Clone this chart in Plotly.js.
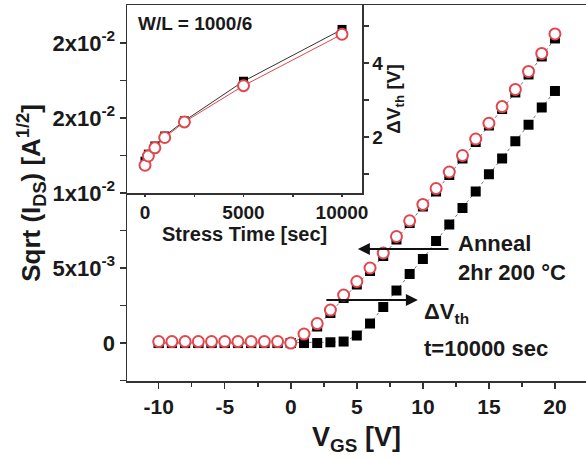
<!DOCTYPE html>
<html><head><meta charset="utf-8">
<script src="https://cdn.plot.ly/plotly-3.0.1.min.js"></script>
<style>html,body{margin:0;padding:0;background:#fff}</style>
</head><body>
<div id="chart" style="width:586px;height:459px"></div>
<script>
// Main transfer curves: V_GS [V] vs sqrt(I_DS)
const vgs = [-10,-9,-8,-7,-6,-5,-4,-3,-2,-1,0,1,2,3,4,5,6,7,8,9,10,11,12,13,14,15,16,17,18,19,20];
const sqrtInitial = [0,0,0,0,0,0,0,0,0,0,0,0.0004,0.0011,0.0020,0.0030,0.0039,0.0048,0.0058,0.0069,0.0080,0.0091,0.0101,0.0112,0.0123,0.0134,0.0145,0.0156,0.0167,0.0179,0.0191,0.0203];
const sqrtStressed = [0,0,0,0,0,0,0,0,0,0,0,0,0,0.00005,0.0001,0.0005,0.0013,0.0024,0.0035,0.0046,0.0056,0.0068,0.0079,0.0090,0.0101,0.01125,0.0123,0.01345,0.01455,0.0157,0.0168];
const sqrtAnnealed = [0.0001,0.0001,0.0001,0.0001,0.0001,0.0001,0.0001,0.0001,0.0001,0.0001,0.0000,0.0006,0.0013,0.0022,0.0032,0.0041,0.0050,0.0060,0.0071,0.00815,0.00924,0.0103,0.0114,0.0125,0.0136,0.01465,0.01576,0.0169,0.0181,0.0193,0.0206];
const xTickVals = [-10,-5,0,5,10,15,20];
const xTickText = ['-10','-5','0','5','10','15','20'];
const yTickVals = [0,0.005,0.01,0.015,0.02];
const yTickText = ['0','5x10<sup>-3</sup>','1x10<sup>-2</sup>','2x10<sup>-2</sup>','2x10<sup>-2</sup>'];
// Inset: stress time vs delta Vth
const stressTime = [0,170,500,1000,2000,5000,10000];
const dVthStress = [1.35,1.54,1.76,2.03,2.44,3.51,4.91];
const dVthAnneal = [1.24,1.49,1.71,1.99,2.41,3.39,4.78];
const insetXTickVals = [0,5000,10000];
const insetXTickText = ['0','5000','10000'];
const insetYTickVals = [2,4];

const RED = '#e2464f';
const F = 'Liberation Sans, Arial, sans-serif';
const traces = [
  {x: vgs, y: sqrtInitial, mode:'lines+markers', xaxis:'x', yaxis:'y',
   line:{color:'#777', width:1, dash:'dot'},
   marker:{symbol:'square', size:10, color:'#000'}},
  {x: vgs, y: sqrtStressed, mode:'lines+markers', xaxis:'x', yaxis:'y',
   line:{color:'#777', width:1, dash:'dot'},
   marker:{symbol:'square', size:10, color:'#000'}},
  {x: vgs, y: sqrtAnnealed, mode:'markers', xaxis:'x', yaxis:'y',
   marker:{symbol:'circle', size:11, color:'#fff', line:{color:RED, width:2}}},
  {x: stressTime, y: dVthStress, mode:'lines+markers', xaxis:'x2', yaxis:'y2',
   line:{color:'#333', width:1},
   marker:{symbol:'square', size:9, color:'#000'}},
  {x: stressTime, y: dVthAnneal, mode:'lines+markers', xaxis:'x2', yaxis:'y2',
   line:{color:RED, width:1},
   marker:{symbol:'circle', size:11, color:'#fff', line:{color:RED, width:2}}}
];

const layout = {
  width:586, height:459, showlegend:false,
  paper_bgcolor:'#fff', plot_bgcolor:'#fff',
  margin:{l:127, r:0, t:5, b:78},
  font:{family:F, color:'#1a1a1a'},
  xaxis:{domain:[0,1], range:[-12.4,22.35], showgrid:false, zeroline:false,
    showline:true, mirror:true, linecolor:'#333', linewidth:1.5,
    ticks:'outside', ticklen:6, tickwidth:1.5, tickcolor:'#333',
    tickmode:'array', tickvals:xTickVals, ticktext:xTickText,
    minor:{tickvals:[-12.5,-7.5,-2.5,2.5,7.5,12.5,17.5], ticks:'outside', ticklen:4, tickcolor:'#333', tickwidth:1.5},
    tickfont:{size:21, family:F, weight:'bold'},
    title:{text:'<b>V<sub>GS</sub> [V]</b>', font:{size:27, family:F}, standoff:10}},
  yaxis:{domain:[0,1], range:[-0.00253,0.02253], showgrid:false, zeroline:false,
    showline:true, linecolor:'#333', linewidth:1.5,
    ticks:'outside', ticklen:6, tickwidth:1.5, tickcolor:'#333',
    tickmode:'array', tickvals:yTickVals, ticktext:yTickText,
    minor:{tickvals:[-0.0025,0.0025,0.0075,0.0125,0.0175], ticks:'outside', ticklen:6, tickcolor:'#333', tickwidth:1.5},
    tickfont:{size:22, family:F, weight:'bold'},
    title:{text:'<b>Sqrt (I<sub>DS</sub>) [A<sup>1/2</sup>]</b>', font:{size:26, family:F}, standoff:4}},
  xaxis2:{domain:[0,0.512], anchor:'y2', range:[-914,11015], showgrid:false, zeroline:false,
    showline:true, linecolor:'#333', linewidth:1.5,
    ticks:'outside', ticklen:2, tickwidth:1.5, tickcolor:'#333',
    tickmode:'array', tickvals:insetXTickVals, ticktext:insetXTickText,
    minor:{tickvals:[2500,7500], ticks:'outside', ticklen:2, tickcolor:'#333', tickwidth:1.5},
    tickfont:{size:19, family:F, weight:'bold'}},
  yaxis2:{domain:[0.5,1], anchor:'x2', side:'right', range:[0.49,5.57], showgrid:false, zeroline:false,
    showline:true, linecolor:'#333', linewidth:1.5,
    ticks:'outside', ticklen:5, tickwidth:1.5, tickcolor:'#333',
    tickmode:'array', tickvals:insetYTickVals,
    minor:{tickvals:[1,3,5], ticks:'outside', ticklen:5, tickcolor:'#333', tickwidth:1.5},
    tickfont:{size:19, family:F, weight:'bold'},
    title:{text:'<b>ΔV<sub>th</sub> [V]</b>', font:{size:19, family:F}, standoff:0}},
  annotations:[
    {xref:'x2 domain', yref:'y2 domain', x:0.04, y:0.9, xanchor:'left', yanchor:'middle', showarrow:false,
     text:'<b>W/L = 1000/6</b>', font:{size:19, family:F, color:'#1a1a1a'}},
    {xref:'x2 domain', yref:'paper', x:0.5, y:(381-234)/376, xanchor:'center', yanchor:'middle', showarrow:false,
     text:'<b>Stress Time [sec]</b>', font:{size:20, family:F, color:'#1a1a1a'}},
    {xref:'x', yref:'y', x:5.08, y:0.00627, ax:12.05, ay:0.00627, axref:'x', ayref:'y',
     showarrow:true, arrowhead:2, arrowsize:1.2, arrowwidth:2, arrowcolor:'#111', text:''},
    {xref:'x', yref:'y', x:9.62, y:0.00287, ax:2.58, ay:0.00287, axref:'x', ayref:'y',
     showarrow:true, arrowhead:2, arrowsize:1.2, arrowwidth:2, arrowcolor:'#111', text:''},
    {xref:'paper', yref:'paper', x:(456-127)/459, y:(381-243)/376, xanchor:'left', yanchor:'middle', showarrow:false,
     text:'<b>Anneal</b>', font:{size:22, family:F, color:'#1a1a1a'}},
    {xref:'paper', yref:'paper', x:(456-127)/459, y:(381-272)/376, xanchor:'left', yanchor:'middle', showarrow:false,
     text:'<b>2hr 200 °C</b>', font:{size:22, family:F, color:'#1a1a1a'}},
    {xref:'paper', yref:'paper', x:(422-127)/459, y:(381-313)/376, xanchor:'left', yanchor:'middle', showarrow:false,
     text:'<b>ΔV<sub>th</sub></b>', font:{size:22, family:F, color:'#1a1a1a'}},
    {xref:'paper', yref:'paper', x:(422-127)/459, y:(381-348)/376, xanchor:'left', yanchor:'middle', showarrow:false,
     text:'<b>t=10000 sec</b>', font:{size:22, family:F, color:'#1a1a1a'}}
  ]
};
Plotly.newPlot('chart', traces, layout, {displayModeBar:false, staticPlot:true});
</script>
</body></html>
